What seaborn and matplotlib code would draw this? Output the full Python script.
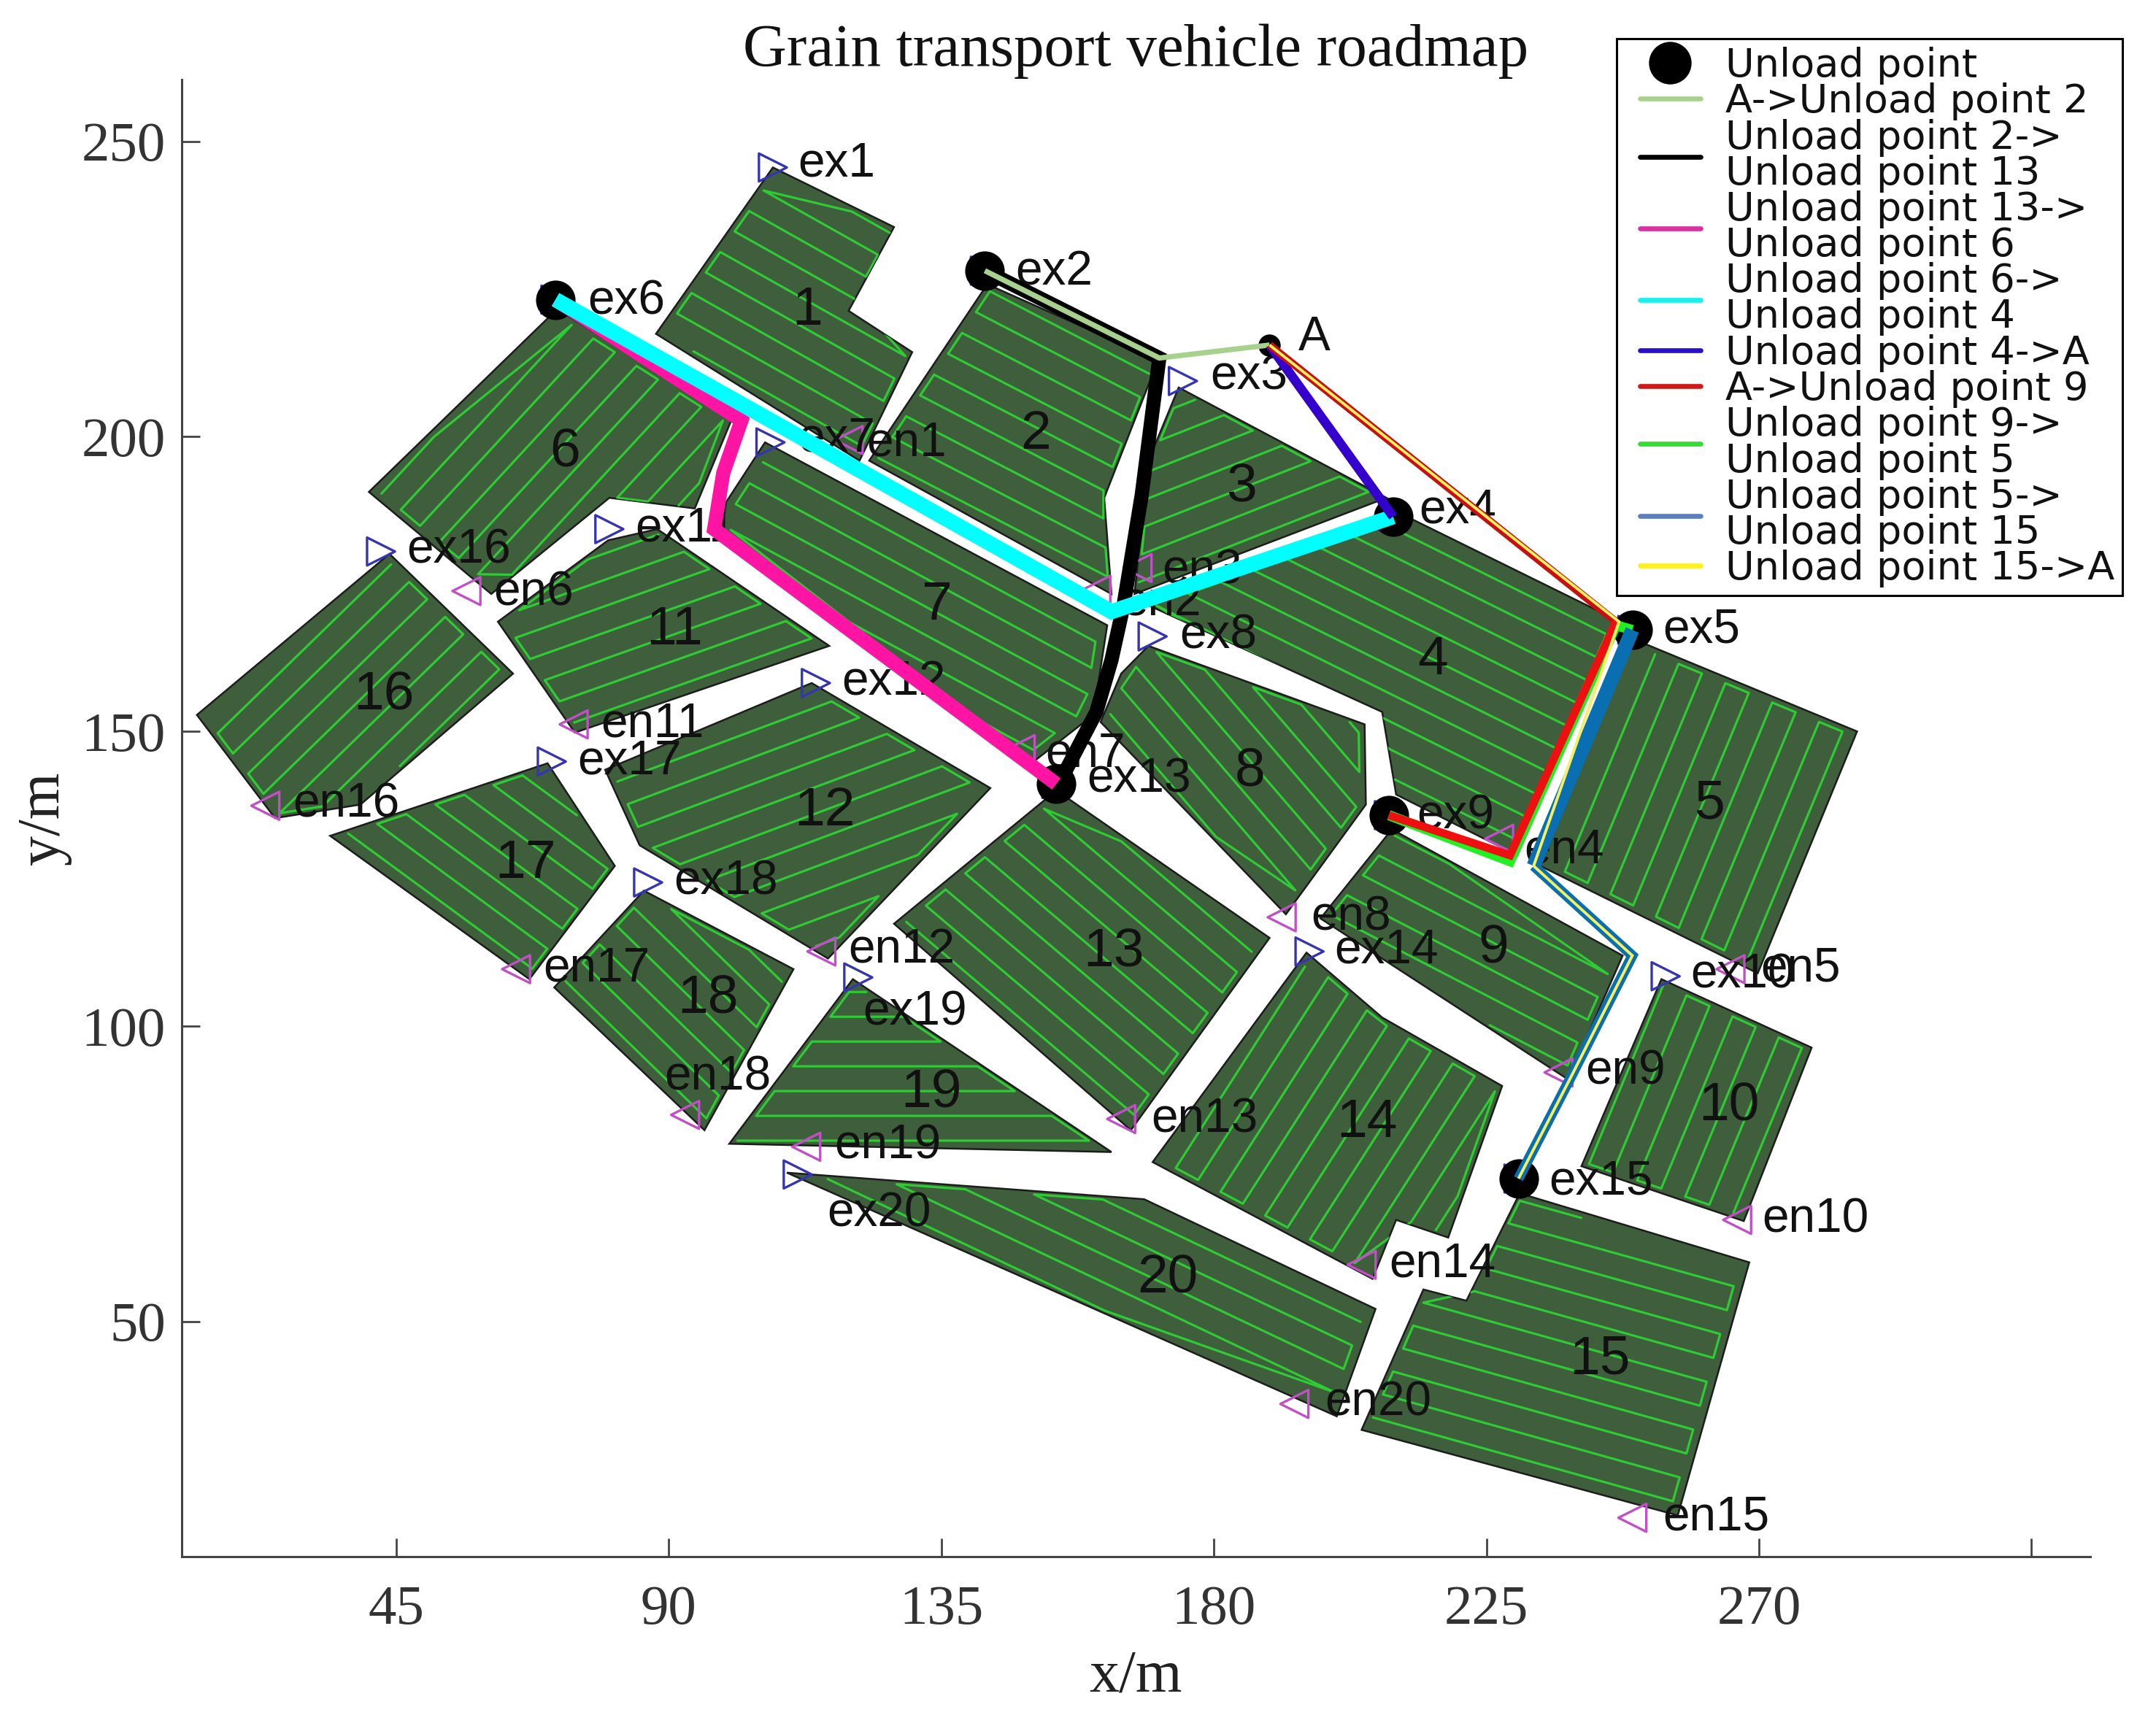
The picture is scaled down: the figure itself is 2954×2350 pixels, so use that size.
import numpy as np
import pandas as pd
import seaborn as sns
import matplotlib
matplotlib.use("Agg")
import matplotlib.pyplot as plt
from matplotlib.lines import Line2D
from matplotlib.patches import Polygon
from matplotlib.legend_handler import HandlerLine2D

# ---------- field outlines (x, y in metres) ----------
field_1 = [(107.2,245.6),(127.2,235.5),(119.7,221.3),(130.2,214.3),(121.5,195.9),(87.9,217.4)]
field_2 = [(142.6,225.8),(170.8,212.9),(161.9,189.6),(163.1,173.3),(123.1,195.9)]
field_3 = [(174.2,208.3),(208.5,189.6),(166.9,173.3),(169.2,195.9)]
field_4 = [(210.1,187.3),(247.1,168.6),(230.1,129.0),(210.1,139.3),(207.8,153.3),(168.1,171.9)]
field_5 = [(249.4,165.6),(286.2,150.0),(269.8,109.0),(233.9,127.2)]
field_6 = [(71.6,221.6),(100.4,202.9),(94.3,187.8),(80.2,189.6),(60.7,173.3),(40.5,190.6)]
field_7 = [(105.9,199.0),(162.4,168.0),(160.1,152.8),(149.9,144.6),(98.8,184.3),(99.5,188.9)]
field_8 = [(169.2,164.5),(204.9,151.2),(205.1,137.6),(191.9,119.0),(161.3,151.6),(164.7,159.8)]
field_9 = [(209.4,133.4),(247.5,112.0),(238.5,91.0),(197.6,118.3)]
field_10 = [(253.9,108.0),(278.7,96.4),(267.5,67.0),(240.7,76.3)]
field_11 = [(80.0,182.4),(88.1,184.3),(116.5,164.5),(74.5,149.8),(61.8,168.6)]
field_12 = [(113.6,158.2),(143.1,140.4),(116.3,111.5),(85.2,130.7),(79.5,143.5)]
field_13 = [(154.0,140.0),(189.2,115.0),(166.3,82.4),(127.2,117.4)]
field_14 = [(195.3,112.5),(207.8,101.5),(227.6,89.9),(218.7,64.2),(210.1,67.2),(206.2,57.2),(169.9,77.0)]
field_15 = [(230.5,71.7),(268.4,60.0),(256.6,17.1),(204.4,31.6),(214.6,55.4),(221.7,53.5)]
field_16 = [(43.9,180.1),(64.3,159.8),(39.1,137.6),(25.0,135.3),(12.1,152.8)]
field_17 = [(70.0,144.6),(81.1,127.2),(67.0,108.0),(34.1,132.3)]
field_18 = [(85.9,123.0),(110.6,109.7),(95.9,82.4),(71.1,106.6)]
field_19 = [(120.4,108.0),(163.1,78.7),(100.0,80.1)]
field_20 = [(109.5,75.2),(168.5,70.7),(206.7,52.1),(200.3,33.9)]
fields = [field_1, field_2, field_3, field_4, field_5, field_6, field_7, field_8, field_9, field_10,
          field_11, field_12, field_13, field_14, field_15, field_16, field_17, field_18, field_19, field_20]

# swath direction of every field, degrees
swath_angle = [-30,-28,22,-27,68,48,-29,-50,-28,68,20,21,-41,58,-16,45,-37,-45,0,-26]
swath_step = 4.2

field_label_x = [112.9,150.6,184.6,216.2,261.9,72.9,134.2,186.0,226.2,265.0,90.9,115.8,163.5,205.3,243.7,43.0,66.3,96.5,133.3,172.4]
field_label_y = [221.3,200.3,191.3,162.1,137.6,197.3,171.4,143.2,113.2,86.4,167.2,136.5,112.5,83.6,43.5,156.1,127.6,104.8,88.7,57.2]

# ---------- field exits / entries ----------
ex_x = [107.2,142.2,174.9,209.6,249.1,71.3,106.8,169.9,208.9,254.6,80.2,114.3,154.0,195.8,230.3,42.5,70.7,86.6,121.3,111.3]
ex_y = [245.6,228.1,209.4,186.4,167.2,223.2,199.0,166.1,135.8,108.5,184.3,158.2,141.1,112.7,74.2,180.5,144.9,124.4,108.3,74.9]
ex_tx = [111.3,147.2,179.4,213.9,254.1,76.6,111.3,174.4,213.5,258.7,84.5,118.6,159.0,199.9,235.3,46.8,75.0,90.9,122.0,116.1]
ex_ty = [246.5,228.1,210.4,187.8,167.5,223.2,199.9,166.5,136.0,109.0,184.7,158.6,142.1,113.2,74.0,181.0,145.3,124.8,102.7,68.6]
en_x = [119.7,160.6,167.4,227.1,265.3,56.6,148.1,191.2,236.9,266.4,74.3,115.2,164.7,204.4,249.1,23.4,64.8,92.7,112.7,193.3]
en_y = [199.4,174.0,177.7,131.8,109.7,173.8,147.0,118.5,92.2,67.2,151.2,112.7,84.3,59.6,16.7,137.4,109.7,85.0,79.6,36.0]
en_tx = [122.7,164.7,171.5,231.2,270.3,61.1,152.2,196.0,241.4,270.5,78.8,119.7,169.7,208.9,254.1,28.0,69.3,89.3,117.4,198.3]
en_ty = [199.2,172.1,177.5,130.2,110.1,173.8,146.5,118.8,92.7,67.5,151.6,113.2,84.5,60.0,17.1,137.9,110.1,91.7,80.1,36.5]

# ---------- unload points ----------
unload_x = [142.2,71.3,209.6,249.1,208.9,154.0,230.3]
unload_y = [228.1,223.2,186.4,167.2,135.8,141.1,74.2]
depot_x, depot_y = [189.2], [215.5]

# ---------- routes ----------
r_a_2_x = [189.2,171.0,142.2];               r_a_2_y = [215.5,213.3,228.1]
r_2_13_x = [142.2,171.0,168.1,165.1,163.1,160.6,154.4]
r_2_13_y = [228.1,213.3,190.1,171.4,162.1,153.3,141.1]
r_13_6_x = [154.0,97.5,99.0,102.0,71.3];     r_13_6_y = [141.1,184.3,193.8,202.7,223.2]
r_6_4_x = [71.3,163.1,209.6];                r_6_4_y = [223.2,170.3,186.4]
r_4_a_x = [209.6,189.2];                     r_4_a_y = [186.4,215.5]
r_a_9a_x = [189.2,246.4];                    r_a_9a_y = [215.5,168.6]
r_a_9b_x = [246.4,228.9,208.9];              r_a_9b_y = [168.6,129.0,135.8]
r_9_5_x = [208.9,228.9,246.4,249.1];         r_9_5_y = [135.8,128.0,168.0,167.2]
r_5_15a_x = [249.1,232.8];                   r_5_15a_y = [167.2,127.2]
r_5_15b_x = [232.8,249.1,239.1,230.3];       r_5_15b_y = [127.2,112.0,91.7,74.2]
r_15_a_x = [230.3,239.1,249.1,232.8,246.9,189.2]
r_15_a_y = [74.2,91.7,112.0,127.2,168.6,215.5]

legend_labels = ["Unload point", "A->Unload point 2", "Unload point 2->\nUnload point 13",
                 "Unload point 13->\nUnload point 6", "Unload point 6->\nUnload point 4",
                 "Unload point 4->A", "A->Unload point 9", "Unload point 9->\nUnload point 5",
                 "Unload point 5->\nUnload point 15", "Unload point 15->A"]
legend_colors = ["black", "#A9D18E", "black", "#D932A0", "#19F0F0", "#2A0FC8", "#D01818", "#33DD33", "#5B7FBE", "#FFF020"]

x_ticks = [45, 90, 135, 180, 225, 270, 315]
x_tick_labels = ["45", "90", "135", "180", "225", "270", ""]
y_ticks = [50, 100, 150, 200, 250]

# ---------- figure ----------
sns.set_theme(style="white")
plt.rcParams["font.family"] = ["Liberation Sans", "DejaVu Sans"]
W, H, DPI = 2954, 2350, 200
fig = plt.figure(figsize=(W / DPI, H / DPI), dpi=DPI, facecolor="white")
ax = fig.add_axes([0.0843, 0.0923, 0.8852, 0.8613])
ax.set_xlim(9.6, 324.7)
ax.set_ylim(10.1, 260.5)

FIELD = "#3F5E3C"
SWATH = "#2FCB35"


def swath_path(poly, angle, step):
    """Serpentine working path across an outline, along the given direction."""
    p = np.array(poly, float)
    c = p.mean(axis=0)
    p = c + (p - c) * 0.955
    a = np.deg2rad(angle)
    d = np.array([np.cos(a), np.sin(a)])
    n = np.array([-d[1], d[0]])
    q = p @ n
    t = p @ d
    path, flip = [], False
    for off in np.arange(q.min() + step * 0.35, q.max(), step):
        hits = []
        for i in range(len(p)):
            j = (i + 1) % len(p)
            if (q[i] - off) * (q[j] - off) < 0:
                hits.append(t[i] + (off - q[i]) / (q[j] - q[i]) * (t[j] - t[i]))
        if len(hits) < 2:
            continue
        ends = [min(hits), max(hits)]
        if flip:
            ends.reverse()
        flip = not flip
        path += [d * e + n * off for e in ends]
    return np.array(path)


for poly, ang in zip(fields, swath_angle):
    patch = Polygon(poly, closed=True, facecolor=FIELD, edgecolor="#1c1c1c", linewidth=0.9, zorder=1)
    ax.add_patch(patch)
    sp = swath_path(poly, ang, swath_step)
    ln, = ax.plot(sp[:, 0], sp[:, 1], color=SWATH, lw=1.15, zorder=2)
    ln.set_clip_path(patch)

for i, (tx, ty) in enumerate(zip(field_label_x, field_label_y)):
    ax.text(tx, ty, str(i + 1), fontsize=27, ha="center", va="center", color="#111111", zorder=3)

# exits and entries
sns.scatterplot(x=en_x, y=en_y, ax=ax, marker="<", s=190, facecolor="none",
                edgecolor="#C24FC8", linewidth=1.2, zorder=4, legend=False)
sns.scatterplot(x=ex_x, y=ex_y, ax=ax, marker=">", s=190, facecolor="none",
                edgecolor="#3535B0", linewidth=1.2, zorder=4, legend=False)


def name(tx, ty, s):
    ax.annotate(s, (tx, ty), xytext=(0, -1), textcoords="offset points", fontsize=23.7,
                ha="left", va="center", color="#111111", zorder=5)


for i, (tx, ty) in enumerate(zip(ex_tx, ex_ty)):
    name(tx, ty, f"ex{i + 1}")
for i, (tx, ty) in enumerate(zip(en_tx, en_ty)):
    name(tx, ty, f"en{i + 1}")
name(194.0, 217.0, "A")

# unload points
sns.scatterplot(x=unload_x, y=unload_y, ax=ax, color="black", s=380, linewidth=0, zorder=6, legend=False)
sns.scatterplot(x=depot_x, y=depot_y, ax=ax, color="black", s=120, linewidth=0, zorder=6, legend=False)


def route(xs, ys, color, lw, z):
    df = pd.DataFrame({"x": xs, "y": ys})
    sns.lineplot(data=df, x="x", y="y", ax=ax, sort=False, estimator=None, color=color,
                 linewidth=lw, zorder=z, legend=False, solid_joinstyle="miter", solid_capstyle="butt")


route(r_2_13_x, r_2_13_y, "black", 7.0, 7)
route(r_a_2_x, r_a_2_y, "#A9D18E", 2.6, 8)
route(r_13_6_x, r_13_6_y, "#FF14A4", 7.0, 7.5)
route(r_6_4_x, r_6_4_y, "#00FFFF", 7.5, 8.5)
route(r_4_a_x, r_4_a_y, "#3300CC", 4.6, 9)
route(r_9_5_x, r_9_5_y, "#22F022", 5.0, 9.5)
route(r_a_9a_x, r_a_9a_y, "#C81010", 3.8, 10)
route(r_a_9b_x, r_a_9b_y, "#EE1010", 4.0, 10)
route(r_5_15a_x, r_5_15a_y, "#0A6FB0", 7.0, 10.5)
route(r_5_15b_x, r_5_15b_y, "#0A6FB0", 5.0, 10.5)
route(r_15_a_x, r_15_a_y, "#F5F060", 1.4, 11)

# axes furniture
ax.set_xticks(x_ticks, x_tick_labels)
ax.set_yticks(y_ticks)
ax.tick_params(axis="both", direction="in", length=9, width=1.0, color="#444444",
               labelsize=27.7, labelcolor="#333333", bottom=True, left=True)
ax.tick_params(axis="x", pad=14)
ax.tick_params(axis="y", pad=8)
for lab in ax.get_xticklabels() + ax.get_yticklabels():
    lab.set_family("Liberation Serif")
for side in ("top", "right"):
    ax.spines[side].set_visible(False)
for side in ("left", "bottom"):
    ax.spines[side].set_color("#444444")
    ax.spines[side].set_linewidth(1.1)
ax.set_xlabel("x/m", family="Liberation Serif", fontsize=29.5, color="#222222", labelpad=7)
ax.set_ylabel("y/m", family="Liberation Serif", fontsize=29.5, color="#222222", labelpad=5)
ax.set_title("Grain transport vehicle roadmap", family="Liberation Serif", fontsize=29.9,
             color="#111111", pad=7)

# legend
handles = [Line2D([], [], color="black", marker="o", ms=20, lw=0)]
handles += [Line2D([], [], color=c, lw=2.4) for c in legend_colors[1:]]
leg = ax.legend(handles, legend_labels, loc="upper left", bbox_to_anchor=(0.7498, 0.9774),
                bbox_transform=fig.transFigure, prop={"family": "DejaVu Sans", "size": 19.5},
                fancybox=False, framealpha=1, edgecolor="black", labelspacing=-0.05,
                handlelength=1.92, handletextpad=0.63, borderpad=0.2, borderaxespad=0,
                handler_map={Line2D: HandlerLine2D(xpad=0.39)})
leg.set_zorder(20)
leg.get_frame().set_linewidth(1.1)
for t in leg.get_texts():
    t.set_linespacing(0.93)
    t.set_color("#111111")

fig.savefig("out.png", dpi=DPI)
